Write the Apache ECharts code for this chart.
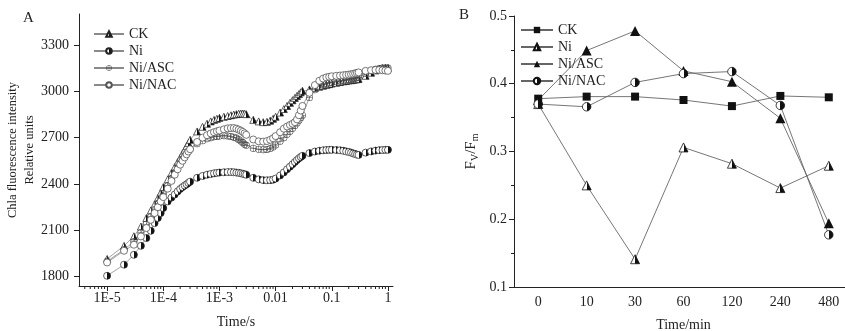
<!DOCTYPE html>
<html>
<head>
<meta charset="utf-8">
<script src="https://cdn.jsdelivr.net/npm/echarts@6/dist/echarts.min.js"></script>
<style>
  html, body { margin: 0; padding: 0; background: #fff; }
  #chart { width: 845px; height: 331px; }
</style>
</head>
<body>
<div id="chart"></div>
<script>
// ---- panel A: fluorescence transients (log time axis) ----
const timesA = [
  1e-5, 2e-5, 3e-5, 4e-5, 5e-5, 6e-5, 7e-5, 8e-5, 9e-5,
  1.0e-4, 1.2e-4, 1.4e-4, 1.6e-4, 1.8e-4, 2.0e-4, 2.2e-4, 2.4e-4, 2.6e-4, 2.8e-4, 3.0e-4,
  4e-4, 5e-4, 6e-4, 7e-4, 8e-4, 9e-4, 1.0e-3, 1.2e-3, 1.4e-3, 1.6e-3, 1.8e-3, 2.0e-3, 2.2e-3, 2.4e-3, 2.6e-3, 2.8e-3, 3.0e-3,
  4e-3, 5e-3, 6e-3, 7e-3, 8e-3, 9e-3, 0.010, 0.012, 0.014, 0.016, 0.018, 0.020, 0.022, 0.024, 0.026, 0.028, 0.030,
  0.04, 0.05, 0.06, 0.07, 0.08, 0.09, 0.10, 0.12, 0.14, 0.16, 0.18, 0.20, 0.22, 0.24, 0.26, 0.28, 0.30,
  0.4, 0.5, 0.6, 0.7, 0.8, 0.9, 1.0
];
const ckA = [
  1915, 2000, 2062, 2125, 2180, 2229, 2268, 2309, 2345,
  2380, 2430, 2472, 2510, 2542, 2570, 2598, 2622, 2645, 2666, 2686,
  2740, 2770, 2790, 2805, 2815, 2822, 2828, 2835, 2840, 2845, 2849, 2852, 2855, 2856, 2856, 2855, 2852,
  2815, 2805, 2800, 2802, 2810, 2822, 2835, 2862, 2885, 2905, 2925, 2942, 2957, 2970, 2982, 2993, 3003,
  3012, 3022, 3030, 3036, 3042, 3046, 3050, 3055, 3060, 3064, 3067, 3070, 3072, 3074, 3076, 3078, 3080,
  3100, 3120, 3135, 3145, 3150, 3152, 3152
];
const niA = [
  1806, 1878, 1942, 2000, 2050, 2097, 2147, 2180, 2212,
  2244, 2287, 2312, 2332, 2352, 2368, 2380, 2390, 2398, 2407, 2415,
  2440, 2452, 2460, 2465, 2469, 2472, 2474, 2476, 2477, 2477, 2476, 2474, 2472, 2469, 2466, 2463, 2460,
  2440, 2430, 2425, 2424, 2425, 2428, 2435, 2455, 2475, 2495, 2512, 2528, 2542, 2555, 2566, 2575, 2582,
  2600, 2610, 2615, 2618, 2620, 2621, 2621, 2620, 2618, 2615, 2611, 2607, 2603, 2598, 2594, 2590, 2588,
  2603, 2611, 2616, 2619, 2620, 2621, 2621
];
const ascA = [
  1900, 1975, 2028, 2085, 2140, 2190, 2235, 2275, 2310,
  2340, 2390, 2435, 2475, 2508, 2536, 2560, 2580, 2598, 2613, 2625,
  2660, 2680, 2692, 2700, 2705, 2708, 2710, 2712, 2711, 2708, 2703, 2697, 2688, 2678, 2668, 2658, 2650,
  2632, 2625, 2622, 2624, 2630, 2640, 2652, 2676, 2700, 2722, 2742, 2760, 2778, 2795, 2812, 2828, 2845,
  2960, 3010, 3030, 3042, 3050, 3055, 3058, 3063, 3067, 3070, 3073, 3076, 3078, 3081, 3084, 3087, 3090,
  3115, 3132, 3142, 3148, 3150, 3151, 3150
];
const nacA = [
  1892, 1968, 2007, 2061, 2115, 2168, 2212, 2250, 2287,
  2315, 2370, 2420, 2460, 2495, 2525, 2550, 2572, 2592, 2610, 2625,
  2672, 2700, 2716, 2727, 2735, 2741, 2746, 2754, 2760, 2762, 2762, 2758, 2752, 2745, 2737, 2728, 2718,
  2688, 2676, 2674, 2678, 2686, 2696, 2710, 2735, 2758, 2772, 2782, 2790, 2800, 2818, 2845, 2875, 2905,
  2990, 3040, 3068, 3082, 3090, 3094, 3097, 3100, 3102, 3104, 3106, 3108, 3110, 3113, 3116, 3119, 3122,
  3132, 3136, 3138, 3138, 3136, 3134, 3132
];
const xTickValuesA = [1e-5, 1e-4, 1e-3, 0.01, 0.1, 1];
const xTickLabelsA = ['1E-5', '1E-4', '1E-3', '0.01', '0.1', '1'];
const yTicksA = [1800, 2100, 2400, 2700, 3000, 3300];
const decadesA = [1e-6, 1e-5, 1e-4, 1e-3, 1e-2, 1e-1];
const mantissas = [2, 3, 4, 5, 6, 7, 8, 9];

// ---- panel B: Fv/Fm over time ----
const catsB = ['0', '10', '30', '60', '120', '240', '480'];
const ckB = [0.378, 0.381, 0.381, 0.376, 0.367, 0.382, 0.380];
const niB = [0.370, 0.250, 0.141, 0.306, 0.282, 0.246, 0.279];
const ascB = [0.376, 0.449, 0.478, 0.419, 0.403, 0.349, 0.194];
const nacB = [0.370, 0.366, 0.402, 0.415, 0.418, 0.368, 0.177];

const FONT = '"Liberation Serif", "Times New Roman", serif';
const INK = '#222';
const X_MIN_A = 3.16e-6, X_MAX_A = 1.23, Y_MIN_A = 1740, Y_MAX_A = 3500;

// minor ticks of the log axis (2..9 x 10^n) inside the axis range
const minorTicksA = [];
decadesA.forEach(d => mantissas.forEach(m => {
  const v = d * m;
  if (v > X_MIN_A && v < X_MAX_A) minorTicksA.push(v);
}));

// half white / half black fill
const half = (a, b) => ({
  type: 'linear', x: 0, y: 0, x2: 1, y2: 0,
  colorStops: [
    { offset: 0, color: a }, { offset: 0.5, color: a },
    { offset: 0.5, color: b }, { offset: 1, color: b }
  ]
});
// circle with a cross
const crossCircle = 'path://M10,0A10,10 0 1,1 10,20A10,10 0 1,1 10,0Z' +
  'M10,1.6A8.4,8.4 0 1,0 10,18.4A8.4,8.4 0 1,0 10,1.6Z' +
  'M9.3,1H10.7V19H9.3Z M1,9.3H19V10.7H1Z';

const lineA = (name, values, symbol, size, itemStyle) => ({
  name, type: 'line', xAxisIndex: 0, yAxisIndex: 0,
  data: timesA.map((t, i) => [t, values[i]]),
  symbol, symbolSize: size, showAllSymbol: true,
  lineStyle: { color: '#8a8a8a', width: 0.8 },
  itemStyle, emphasis: { disabled: true }
});
const lineB = (name, values, symbol, size, itemStyle) => ({
  name: 'B:' + name, type: 'line', xAxisIndex: 1, yAxisIndex: 1,
  data: values, symbol, symbolSize: size,
  lineStyle: { color: '#666', width: 0.9 },
  itemStyle, emphasis: { disabled: true }
});

const textBase = { fontFamily: FONT, color: INK, fontSize: 14 };

const chart = echarts.init(document.getElementById('chart'));
chart.setOption({
  animation: false,
  backgroundColor: '#fff',
  textStyle: { fontFamily: FONT },
  graphic: [
    { type: 'text', left: 23, top: 11, style: { text: 'A', font: '15px ' + FONT, fill: INK } },
    { type: 'text', left: 459, top: 8, style: { text: 'B', font: '15px ' + FONT, fill: INK } }
  ],
  grid: [
    { left: 79, top: 14, width: 314, height: 272, outerBoundsMode: 'none', containLabel: false },
    { left: 514, top: 16, width: 339, height: 271, outerBoundsMode: 'none', containLabel: false }
  ],
  legend: [
    {
      data: ['CK', 'Ni', 'Ni/ASC', 'Ni/NAC'],
      orient: 'vertical', left: 88, top: 21, itemWidth: 30, itemHeight: 7, itemGap: 1,
      selectedMode: false,
      textStyle: { ...textBase, fontSize: 14, lineHeight: 16 }
    },
    {
      data: ['B:CK', 'B:Ni', 'B:Ni/ASC', 'B:Ni/NAC'],
      formatter: n => n.replace('B:', ''),
      orient: 'vertical', left: 515, top: 17, itemWidth: 32, itemHeight: 8, itemGap: 1,
      selectedMode: false,
      textStyle: { ...textBase, fontSize: 14, lineHeight: 16 }
    }
  ],
  xAxis: [
    {
      type: 'log', gridIndex: 0, logBase: 10, min: X_MIN_A, max: X_MAX_A,
      axisLine: { lineStyle: { color: INK } },
      axisTick: { length: 5, lineStyle: { color: INK } },
      splitLine: { show: false },
      axisLabel: {
        ...textBase, margin: 5, showMinLabel: false, showMaxLabel: false,
        formatter: v => {
          const i = xTickValuesA.findIndex(t => Math.abs(Math.log10(t) - Math.log10(v)) < 1e-6);
          return i >= 0 ? xTickLabelsA[i] : '';
        }
      },
      name: 'Time/s', nameLocation: 'middle', nameGap: 29,
      nameTextStyle: { ...textBase }
    },
    {
      type: 'category', gridIndex: 1, data: catsB, boundaryGap: true,
      axisLine: { lineStyle: { color: INK } },
      axisTick: { alignWithLabel: true, length: 5, lineStyle: { color: INK } },
      axisLabel: { ...textBase, margin: 8 },
      name: 'Time/min', nameLocation: 'middle', nameGap: 31,
      nameTextStyle: { ...textBase }
    },
    {
      type: 'category', gridIndex: 1, data: catsB, boundaryGap: true, position: 'bottom',
      axisLine: { show: false },
      axisTick: { length: 3, lineStyle: { color: INK } },
      axisLabel: { show: false }
    }
  ],
  yAxis: [
    {
      type: 'value', gridIndex: 0, min: Y_MIN_A, max: Y_MAX_A,
      axisLine: { show: true, lineStyle: { color: INK } },
      axisTick: { show: true, length: 5, customValues: yTicksA, lineStyle: { color: INK } },
      axisLabel: { ...textBase, margin: 10, customValues: yTicksA, formatter: v => String(v) },
      splitLine: { show: false },
      name: 'Chla fluorescence intensity\nRelative units',
      nameLocation: 'middle', nameRotate: 90, nameGap: 41, nameMoveOverlap: false,
      nameTextStyle: { fontFamily: FONT, color: INK, fontSize: 12.5, lineHeight: 17 }
    },
    {
      type: 'value', gridIndex: 1, min: 0.1, max: 0.5, interval: 0.1,
      axisLine: { show: true, lineStyle: { color: INK } },
      axisTick: { show: true, length: 5, lineStyle: { color: INK } },
      minorTick: { show: true, splitNumber: 2, length: 3, lineStyle: { color: INK } },
      axisLabel: { ...textBase, margin: 7 },
      splitLine: { show: false },
      name: '{a|F}{s|V}{a|/F}{s|m}',
      nameLocation: 'middle', nameRotate: 90, nameGap: 34,
      nameTextStyle: {
        rich: {
          a: { fontFamily: FONT, color: INK, fontSize: 15, lineHeight: 18 },
          s: { fontFamily: FONT, color: INK, fontSize: 10, lineHeight: 18, verticalAlign: 'bottom', padding: [8, 0, 0, 0] }
        }
      }
    }
  ],
  series: [
    lineA('CK', ckA, 'triangle', 7, { color: half('#fff', '#111'), borderColor: '#222', borderWidth: 0.7 }),
    lineA('Ni', niA, 'circle', 7, { color: half('#fff', '#111'), borderColor: '#222', borderWidth: 0.7 }),
    lineA('Ni/ASC', ascA, crossCircle, 7, { color: '#444', borderWidth: 0 }),
    lineA('Ni/NAC', nacA, 'circle', 7, { color: '#fff', borderColor: '#555', borderWidth: 0.8 }),
    {
      type: 'custom', xAxisIndex: 0, yAxisIndex: 0, silent: true, clip: false,
      data: minorTicksA.map(t => [t, Y_MIN_A]),
      renderItem: (params, api) => {
        const p = api.coord([api.value(0), api.value(1)]);
        return {
          type: 'line',
          shape: { x1: p[0], y1: p[1], x2: p[0], y2: p[1] + 3 },
          style: { stroke: INK, lineWidth: 1 }
        };
      }
    },
    lineB('CK', ckB, 'rect', 8, { color: '#111', borderWidth: 0 }),
    lineB('Ni', niB, 'triangle', 9, { color: half('#fff', '#111'), borderColor: '#111', borderWidth: 0.8 }),
    lineB('Ni/ASC', ascB, 'triangle', 10, { color: '#111', borderWidth: 0 }),
    lineB('Ni/NAC', nacB, 'circle', 8.5, { color: half('#fff', '#111'), borderColor: '#111', borderWidth: 0.8 })
  ]
});
</script>
</body>
</html>
